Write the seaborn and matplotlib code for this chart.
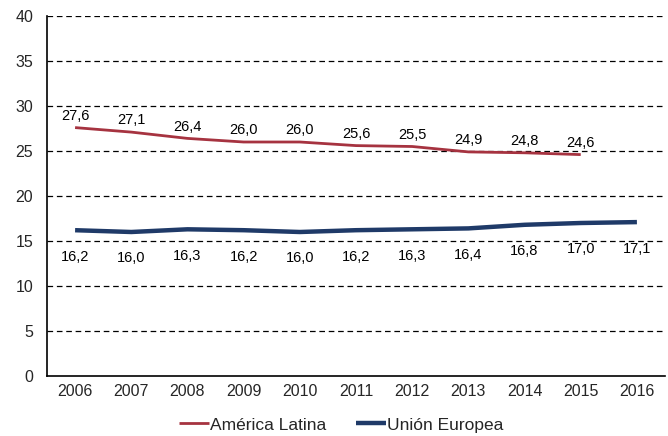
import matplotlib
matplotlib.use("Agg")
import matplotlib.pyplot as plt
import seaborn as sns
import pandas as pd
import numpy as np

years = ["2006", "2007", "2008", "2009", "2010", "2011", "2012", "2013", "2014", "2015", "2016"]
america_latina = [27.6, 27.1, 26.4, 26.0, 26.0, 25.6, 25.5, 24.9, 24.8, 24.6, None]
union_europea = [16.2, 16.0, 16.3, 16.2, 16.0, 16.2, 16.3, 16.4, 16.8, 17.0, 17.1]
series_names = ["América Latina", "Unión Europea"]
colors = ["#A63340", "#1F3A68"]
widths = [2.0, 3.2]

sns.set_theme(style="white")
plt.rcParams['font.family'] = ['Liberation Sans', 'DejaVu Sans']

fig = plt.figure(figsize=(6.68, 4.36), dpi=100)
ax = fig.add_axes([47/668, 1-376/436, 618/668, 360/436])

x = np.arange(len(years))
rows = []
for name, vals in zip(series_names, [america_latina, union_europea]):
    for i, v in enumerate(vals):
        if v is not None:
            rows.append({"x": i, "y": v, "serie": name})
df = pd.DataFrame(rows)

for name, c, w in zip(series_names, colors, widths):
    sub = df[df.serie == name]
    sns.lineplot(data=sub, x="x", y="y", ax=ax, color=c, linewidth=w, label=name,
                 solid_capstyle="butt")

def fmt(v):
    return f"{v:.1f}".replace(".", ",")

for i, v in enumerate(america_latina):
    if v is not None:
        ax.annotate(fmt(v), (i, v), xytext=(0, 3.5), textcoords="offset points",
                    ha="center", va="bottom", fontsize=10.5, color="black")
for i, v in enumerate(union_europea):
    ax.annotate(fmt(v), (i, v), xytext=(0, -14), textcoords="offset points",
                ha="center", va="top", fontsize=10.5, color="black")

ax.set_xlim(-0.5, len(years) - 0.5)
ax.set_ylim(0, 40)
ax.set_yticks(range(0, 41, 5))
ax.set_xticks(x)
ax.set_xticklabels(years)
ax.set_xticks(np.arange(-0.5, len(years), 1), minor=True)
ax.tick_params(axis="x", which="major", length=0, pad=6, labelsize=11.5)
ax.tick_params(axis="x", which="minor", length=4, width=1, color="black", direction="out")
ax.tick_params(axis="y", which="major", length=4, width=1, color="black", direction="out", labelsize=11.5, pad=6)
ax.set_xlabel("")
ax.set_ylabel("")

for yv in range(5, 41, 5):
    ax.axhline(yv, color="black", linestyle=(0, (4.5, 3)), linewidth=0.9, zorder=0)

for s in ["top", "right"]:
    ax.spines[s].set_visible(False)
for s in ["left", "bottom"]:
    ax.spines[s].set_color("black")
    ax.spines[s].set_linewidth(1.2)

ax.legend(loc="center", bbox_to_anchor=(0.511, 1 - 425/436), bbox_transform=fig.transFigure,
          ncol=2, frameon=False, fontsize=12.5, handlelength=1.7, handletextpad=0.1,
          columnspacing=1.7, borderpad=0)

fig.savefig("out.png", dpi=100)
